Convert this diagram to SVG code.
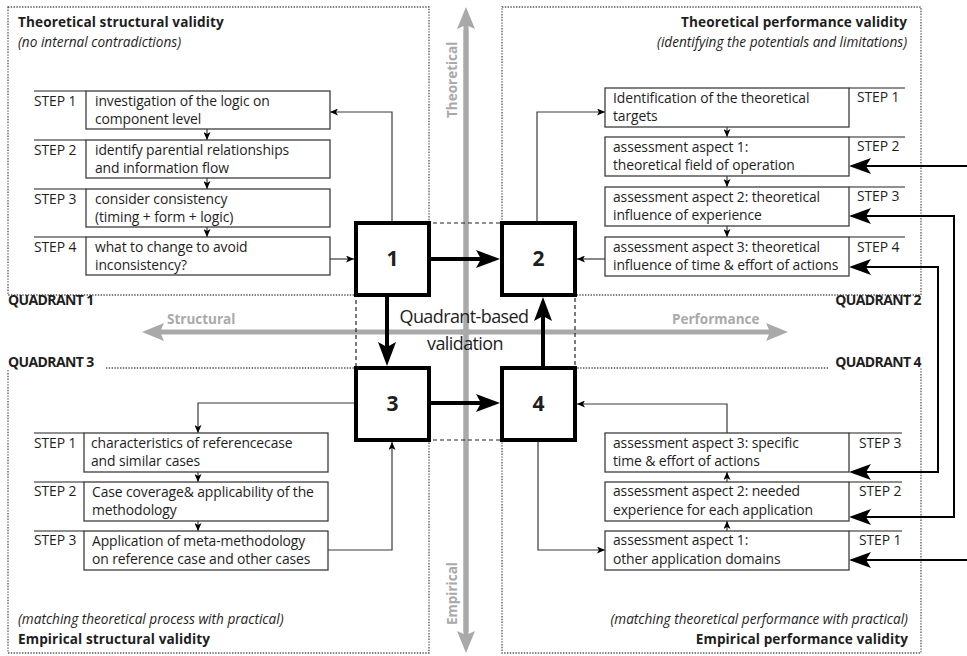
<svg xmlns="http://www.w3.org/2000/svg" width="967" height="656" viewBox="0 0 967 656">
  <style>
    text { font-family: "Open Sans", "Liberation Sans", sans-serif; fill: #1e1e1e; }
    .t { font-size: 13.9px; letter-spacing: -0.1px; }
    .title { font-size: 13.6px; font-weight: bold; letter-spacing: 0.1px; }
    .sub { font-size: 13.6px; font-style: italic; letter-spacing: 0px; }
    .quad { font-size: 14px; font-weight: bold; letter-spacing: -0.6px; }
    .axis { font-size: 13.5px; font-weight: bold; fill: #a9a9a9; }
    .num { font-size: 21px; font-weight: bold; text-anchor: middle; }
    .center { font-size: 18px; text-anchor: middle; letter-spacing: -0.6px; }
    .frame { fill: none; stroke: #555; stroke-width: 1.3; stroke-dasharray: 1.4 1.4; }
    .step { fill: #fff; stroke: #3c3c3c; stroke-width: 1.3; }
    .tab { fill: none; stroke: #6a6a6a; stroke-width: 1.3; }
    .big { fill: #fff; stroke: #000; stroke-width: 4; }
    .thin { fill: none; stroke: #3a3a3a; stroke-width: 1.2; marker-end: url(#small); }
    .thick { fill: none; stroke: #000; stroke-width: 4; marker-end: url(#head); }
    .link { fill: none; stroke: #000; stroke-width: 2; }
    .ax { fill: none; stroke: #a9a9a9; stroke-width: 5; }
  </style>
  <defs>
    <marker id="small" markerUnits="userSpaceOnUse" markerWidth="8" markerHeight="7" refX="8" refY="3.5" orient="auto">
      <path d="M0,0 L8,3.5 L0,7 L2,3.5 z" fill="#000"/>
    </marker>
    <marker id="head" markerUnits="userSpaceOnUse" markerWidth="24" markerHeight="18" refX="14" refY="9" orient="auto">
      <path d="M0,0 L24,9 L0,18 L5,9 z" fill="#000"/>
    </marker>
    <marker id="side" markerUnits="userSpaceOnUse" markerWidth="22" markerHeight="16" refX="12" refY="8" orient="auto-start-reverse">
      <path d="M0,0 L22,8 L0,16 L5,8 z" fill="#000"/>
    </marker>
    <marker id="axhead" markerUnits="userSpaceOnUse" markerWidth="22" markerHeight="18" refX="5" refY="9" orient="auto">
      <path d="M0,0 L22,9 L0,18 L4,9 z" fill="#a9a9a9"/>
    </marker>
  </defs>

  <!-- quadrant frames -->
  <g id="frames">
    <rect class="frame" x="8" y="7" width="421" height="288"/>
    <rect class="frame" x="502" y="7" width="419" height="288"/>
    <path class="frame" d="M106,368 H429 V653 H8 V370"/>
    <path class="frame" d="M828,368 H502 V653 H921 V368"/>
  </g>

  <!-- axes -->
  <g id="axes">
    <line class="ax" x1="466" y1="632" x2="466" y2="24" marker-end="url(#axhead)"/>
    <line class="ax" x1="466" y1="30" x2="466" y2="636" marker-end="url(#axhead)"/>
    <line class="ax" x1="470" y1="332" x2="159" y2="332" marker-end="url(#axhead)"/>
    <line class="ax" x1="460" y1="332" x2="771" y2="332" marker-end="url(#axhead)"/>
    <text class="axis" transform="translate(457,118) rotate(-90)">Theoretical</text>
    <text class="axis" transform="translate(457,625) rotate(-90)">Empirical</text>
    <text class="axis" x="167" y="324">Structural</text>
    <text class="axis" x="672" y="324">Performance</text>
  </g>

  <!-- quadrant headings -->
  <g id="headings">
    <text class="title" x="18" y="27">Theoretical structural validity</text>
    <text class="sub" x="18" y="46.5">(no internal contradictions)</text>
    <text class="title" x="907" y="27" text-anchor="end">Theoretical performance validity</text>
    <text class="sub" x="907" y="46.5" text-anchor="end">(identifying the potentials and limitations)</text>
    <text class="sub" x="18" y="624">(matching theoretical process with practical)</text>
    <text class="title" x="18" y="644">Empirical structural validity</text>
    <text class="sub" x="908" y="624" text-anchor="end">(matching theoretical performance with practical)</text>
    <text class="title" x="908" y="644" text-anchor="end">Empirical performance validity</text>
    <text class="quad" x="8" y="305">QUADRANT 1</text>
    <text class="quad" x="921" y="305" text-anchor="end">QUADRANT 2</text>
    <text class="quad" x="8" y="367">QUADRANT 3</text>
    <text class="quad" x="921" y="367" text-anchor="end">QUADRANT 4</text>
  </g>

  <!-- centre outline -->
  <rect x="356" y="223" width="219" height="217" fill="none" stroke="#222" stroke-width="1.2" stroke-dasharray="4 3"/>
  <text class="center" x="464" y="323">Quadrant-based</text>
  <text class="center" x="465" y="350">validation</text>

  <!-- connectors -->
  <g id="connectors">
    <!-- quadrant 1 -->
    <path class="thin" d="M392,221 V112 H330"/>
    <path class="thin" d="M330,259 H354"/>
    <path class="thin" d="M207,129 V140"/>
    <path class="thin" d="M207,178 V189"/>
    <path class="thin" d="M207,227 V237"/>
    <!-- quadrant 2 -->
    <path class="thin" d="M537,221 V112 H605"/>
    <path class="thin" d="M605,259 H577"/>
    <path class="thin" d="M727,127 V137"/>
    <path class="thin" d="M727,176 V187"/>
    <path class="thin" d="M727,226 V237"/>
    <!-- quadrant 3 -->
    <path class="thin" d="M354,403 H198 V433"/>
    <path class="thin" d="M328,550 H392 V442"/>
    <path class="thin" d="M198,472 V482"/>
    <path class="thin" d="M198,521 V531"/>
    <!-- quadrant 4 -->
    <path class="thin" d="M538,442 V550 H605"/>
    <path class="thin" d="M727,433 V404 H577"/>
    <path class="thin" d="M727,482 V472"/>
    <path class="thin" d="M727,531 V521"/>
    <!-- main cycle -->
    <path class="thick" d="M431,259 H490"/>
    <path class="thick" d="M387,297 V356"/>
    <path class="thick" d="M431,403 H490"/>
    <path class="thick" d="M543,366 V307"/>
    <!-- links between theoretical and empirical performance steps -->
    <path class="link" d="M967,166 H859" marker-end="url(#side)"/>
    <path class="link" d="M859,216 H954 V517 H859" marker-start="url(#side)" marker-end="url(#side)"/>
    <path class="link" d="M859,267 H938 V472 H859" marker-start="url(#side)" marker-end="url(#side)"/>
    <path class="link" d="M967,560 H859" marker-end="url(#side)"/>
  </g>

  <!-- quadrant 1 steps -->
  <g id="q1-step1">
    <path class="tab" d="M34,91 H86"/>
    <rect class="step" x="86" y="91" width="244" height="38"/>
    <text class="t" x="34" y="106">STEP 1</text>
    <text class="t" x="95" y="106">investigation of the logic on</text>
    <text class="t" x="95" y="124">component level</text>
  </g>
  <g id="q1-step2">
    <path class="tab" d="M34,140 H86"/>
    <rect class="step" x="86" y="140" width="244" height="38"/>
    <text class="t" x="34" y="155">STEP 2</text>
    <text class="t" x="95" y="155">identify parential relationships</text>
    <text class="t" x="95" y="173">and information flow</text>
  </g>
  <g id="q1-step3">
    <path class="tab" d="M34,189 H86"/>
    <rect class="step" x="86" y="189" width="244" height="38"/>
    <text class="t" x="34" y="204">STEP 3</text>
    <text class="t" x="95" y="204">consider consistency</text>
    <text class="t" x="95" y="222">(timing + form + logic)</text>
  </g>
  <g id="q1-step4">
    <path class="tab" d="M34,237 H86"/>
    <rect class="step" x="86" y="237" width="244" height="38"/>
    <text class="t" x="34" y="252">STEP 4</text>
    <text class="t" x="95" y="252">what to change to avoid</text>
    <text class="t" x="95" y="270">inconsistency?</text>
  </g>

  <!-- quadrant 2 steps -->
  <g id="q2-step1">
    <path class="tab" d="M849,88 H905"/>
    <rect class="step" x="605" y="88" width="244" height="39"/>
    <text class="t" x="857" y="102">STEP 1</text>
    <text class="t" x="613" y="103">Identification of the theoretical</text>
    <text class="t" x="613" y="121">targets</text>
  </g>
  <g id="q2-step2">
    <path class="tab" d="M849,137 H905"/>
    <rect class="step" x="605" y="137" width="244" height="39"/>
    <text class="t" x="857" y="151">STEP 2</text>
    <text class="t" x="613" y="152">assessment aspect 1:</text>
    <text class="t" x="613" y="170">theoretical field of operation</text>
  </g>
  <g id="q2-step3">
    <path class="tab" d="M849,187 H905"/>
    <rect class="step" x="605" y="187" width="244" height="39"/>
    <text class="t" x="857" y="201">STEP 3</text>
    <text class="t" x="613" y="202">assessment aspect 2: theoretical</text>
    <text class="t" x="613" y="220">influence of experience</text>
  </g>
  <g id="q2-step4">
    <path class="tab" d="M849,237 H905"/>
    <rect class="step" x="605" y="237" width="244" height="39"/>
    <text class="t" x="857" y="252">STEP 4</text>
    <text class="t" x="613" y="252">assessment aspect 3: theoretical</text>
    <text class="t" x="613" y="270">influence of time &amp; effort of actions</text>
  </g>

  <!-- quadrant 3 steps -->
  <g id="q3-step1">
    <path class="tab" d="M34,433 H84"/>
    <rect class="step" x="84" y="433" width="244" height="39"/>
    <text class="t" x="34" y="448">STEP 1</text>
    <text class="t" x="91" y="448">characteristics of referencecase</text>
    <text class="t" x="91" y="466">and similar cases</text>
  </g>
  <g id="q3-step2">
    <path class="tab" d="M34,482 H84"/>
    <rect class="step" x="84" y="482" width="244" height="39"/>
    <text class="t" x="34" y="496">STEP 2</text>
    <text class="t" x="92" y="497">Case coverage&amp; applicability of the</text>
    <text class="t" x="92" y="515">methodology</text>
  </g>
  <g id="q3-step3">
    <path class="tab" d="M34,531 H84"/>
    <rect class="step" x="84" y="531" width="244" height="39"/>
    <text class="t" x="34" y="545">STEP 3</text>
    <text class="t" x="92" y="546">Application of meta-methodology</text>
    <text class="t" x="92" y="564">on reference case and other cases</text>
  </g>

  <!-- quadrant 4 steps -->
  <g id="q4-step3">
    <path class="tab" d="M849,433 H902"/>
    <rect class="step" x="605" y="433" width="244" height="39"/>
    <text class="t" x="859" y="448">STEP 3</text>
    <text class="t" x="613" y="448">assessment aspect 3: specific</text>
    <text class="t" x="613" y="466">time &amp; effort of actions</text>
  </g>
  <g id="q4-step2">
    <path class="tab" d="M849,482 H902"/>
    <rect class="step" x="605" y="482" width="244" height="39"/>
    <text class="t" x="859" y="496">STEP 2</text>
    <text class="t" x="613" y="496">assessment aspect 2: needed</text>
    <text class="t" x="613" y="515">experience for each application</text>
  </g>
  <g id="q4-step1">
    <path class="tab" d="M849,531 H902"/>
    <rect class="step" x="605" y="531" width="244" height="39"/>
    <text class="t" x="859" y="545">STEP 1</text>
    <text class="t" x="613" y="545">assessment aspect 1:</text>
    <text class="t" x="613" y="564">other application domains</text>
  </g>

  <!-- numbered quadrant nodes -->
  <g id="node1">
    <rect class="big" x="356" y="223" width="73" height="72"/>
    <text class="num" x="392.5" y="266">1</text>
  </g>
  <g id="node2">
    <rect class="big" x="502" y="223" width="73" height="72"/>
    <text class="num" x="538.5" y="266">2</text>
  </g>
  <g id="node3">
    <rect class="big" x="356" y="368" width="73" height="72"/>
    <text class="num" x="392.5" y="411">3</text>
  </g>
  <g id="node4">
    <rect class="big" x="502" y="368" width="73" height="72"/>
    <text class="num" x="538.5" y="411">4</text>
  </g>
</svg>
